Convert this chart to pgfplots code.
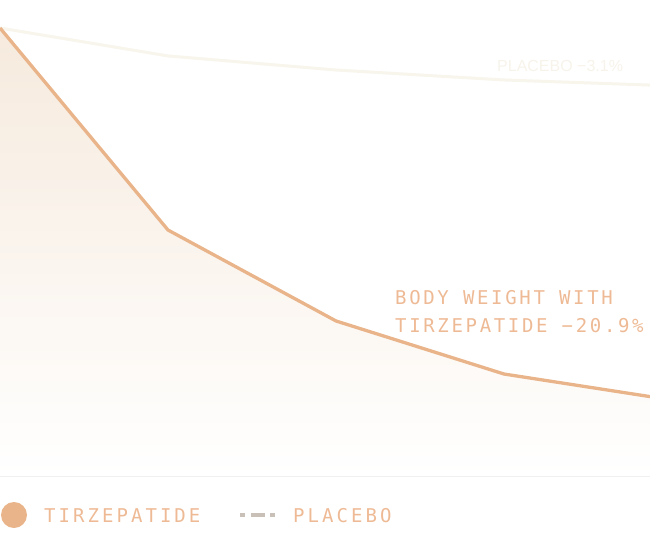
\documentclass[border=0pt]{standalone}
\usepackage{fontspec}
\usepackage{pgfplots}
\pgfplotsset{compat=1.18}
\setmainfont{Liberation Sans}
\newfontfamily\mono[LetterSpace=14]{DejaVu Sans Mono}
\newfontfamily\monowide[LetterSpace=16]{DejaVu Sans Mono}

\definecolor{tirz}{RGB}{233,180,138}
\definecolor{tirztext}{RGB}{238,186,149}
\definecolor{placebo}{RGB}{248,245,236}
\definecolor{placebotext}{RGB}{247,243,234}
\definecolor{dashgray}{RGB}{201,192,183}
\definecolor{basegray}{RGB}{238,238,238}
\definecolor{filltop}{RGB}{246,234,221}

\begin{document}
\begin{tikzpicture}[x=1pt,y=1pt]
\useasboundingbox (0pt,0pt) rectangle (650pt,542pt);
\begin{axis}[
    at={(0pt,66pt)}, anchor=south west,
    scale only axis,
    width=650pt, height=476pt,
    xmin=0, xmax=3.869,
    ymin=-25.17, ymax=1.573,
    axis x line*=bottom,
    axis y line=none,
    axis line style={draw=basegray, line width=1.5pt},
    xtick=\empty, ytick=\empty,
]
% area under tirzepatide
\addplot[draw=none, top color=filltop, bottom color=white] coordinates {
(0, 0)
(1, -11.35)
(2, -16.46)
(3, -19.44)
(4, -20.9)
(4, -25.17)
(0, -25.17)
} -- cycle;
% placebo
\addplot[placebo, line width=3pt] coordinates {
(0, 0)
(1, -1.57)
(2, -2.36)
(3, -2.92)
(4, -3.25)
};
% tirzepatide
\addplot[tirz, line width=3.3pt] coordinates {
(0, 0)
(1, -11.35)
(2, -16.46)
(3, -19.44)
(4, -20.9)
};
\end{axis}

% labels
\node[anchor=base west, inner sep=0, text=placebotext, font=\fontsize{16}{19}\selectfont] at (497pt,470pt) {PLACEBO −3.1\%};
\node[anchor=base west, inner sep=0, text=tirztext, font=\mono\fontsize{19}{28}\selectfont, align=left] at (395pt,210pt) {BODY WEIGHT WITH\\TIRZEPATIDE −20.9\%};

% legend
\fill[tirz] (14pt,27pt) circle (13pt);
\node[anchor=base west, inner sep=0, text=tirztext, font=\monowide\fontsize{19}{23}\selectfont] at (44pt,20pt) {TIRZEPATIDE};
\draw[dashgray, line width=4.5pt] (240pt,27pt) -- (245pt,27pt) (251pt,27pt) -- (265pt,27pt) (270pt,27pt) -- (275pt,27pt);
\node[anchor=base west, inner sep=0, text=tirztext, font=\monowide\fontsize{19}{23}\selectfont] at (293pt,20pt) {PLACEBO};
\end{tikzpicture}
\end{document}
